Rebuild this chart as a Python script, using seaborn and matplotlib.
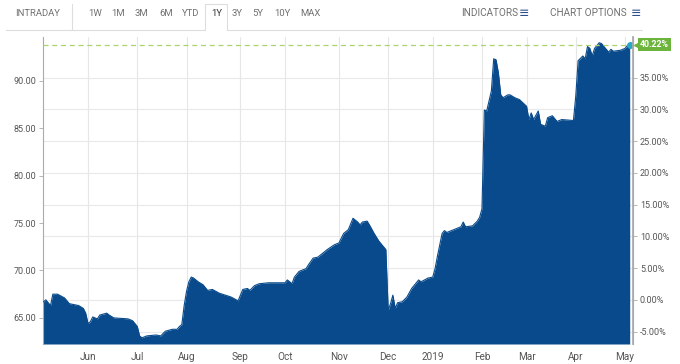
import numpy as np
import pandas as pd
import matplotlib
matplotlib.use("Agg")
import matplotlib.pyplot as plt
import matplotlib.transforms as mtransforms
from matplotlib.lines import Line2D
import seaborn as sns

# ---------------- data ----------------
dates = [
    "2018-05-03", "2018-05-04", "2018-05-07", "2018-05-09", "2018-05-10", "2018-05-14",
    "2018-05-17", "2018-05-21", "2018-05-25", "2018-05-30", "2018-05-31",
    "2018-06-01", "2018-06-04", "2018-06-05", "2018-06-07", "2018-06-08", "2018-06-13",
    "2018-06-14", "2018-06-18", "2018-06-26", "2018-06-28",
    "2018-07-02", "2018-07-03", "2018-07-05", "2018-07-09", "2018-07-13", "2018-07-17",
    "2018-07-19", "2018-07-24", "2018-07-26", "2018-07-27", "2018-07-30", "2018-07-31",
    "2018-08-01", "2018-08-02", "2018-08-03", "2018-08-06", "2018-08-08", "2018-08-10",
    "2018-08-14", "2018-08-16", "2018-08-21", "2018-08-28", "2018-08-31",
    "2018-09-05", "2018-09-07", "2018-09-10", "2018-09-12", "2018-09-14", "2018-09-20",
    "2018-09-27",
    "2018-10-01", "2018-10-02", "2018-10-04", "2018-10-05", "2018-10-09", "2018-10-10",
    "2018-10-12", "2018-10-15", "2018-10-17", "2018-10-19", "2018-10-25", "2018-10-30",
    "2018-11-01", "2018-11-05", "2018-11-07", "2018-11-09", "2018-11-13", "2018-11-14",
    "2018-11-15", "2018-11-19", "2018-11-20", "2018-11-23", "2018-11-27", "2018-11-30",
    "2018-12-03", "2018-12-04", "2018-12-06", "2018-12-07", "2018-12-10", "2018-12-12",
    "2018-12-14", "2018-12-18", "2018-12-21", "2018-12-24", "2018-12-28",
    "2019-01-02", "2019-01-03", "2019-01-04", "2019-01-08", "2019-01-09", "2019-01-10",
    "2019-01-15", "2019-01-18", "2019-01-22", "2019-01-23", "2019-01-28", "2019-01-30",
    "2019-01-31",
    "2019-02-01", "2019-02-04", "2019-02-05", "2019-02-07", "2019-02-08", "2019-02-11",
    "2019-02-12", "2019-02-13", "2019-02-14", "2019-02-19", "2019-02-20", "2019-02-22",
    "2019-02-26",
    "2019-03-01", "2019-03-04", "2019-03-05", "2019-03-06", "2019-03-08", "2019-03-11",
    "2019-03-13", "2019-03-14", "2019-03-18", "2019-03-20", "2019-03-21", "2019-03-22",
    "2019-03-29",
    "2019-04-01", "2019-04-02", "2019-04-04", "2019-04-05", "2019-04-08", "2019-04-09",
    "2019-04-10", "2019-04-11", "2019-04-15", "2019-04-16", "2019-04-18", "2019-04-22",
    "2019-04-23", "2019-04-24", "2019-04-29",
    "2019-05-01", "2019-05-02", "2019-05-03",
]
prices = [
    66.6, 66.7, 66.9, 66.3, 67.5, 67.5,
    67.1, 66.5, 66.3, 66.0, 65.5,
    64.4, 64.6, 65.1, 64.9, 65.3, 65.5,
    65.3, 65.0, 64.9, 64.7,
    64.1, 63.1, 62.9, 63.1, 63.2, 63.1,
    63.6, 63.8, 63.8, 64.1, 64.3, 66.3,
    67.8, 68.8, 69.3, 69.2, 68.8, 68.5,
    67.9, 68.0, 67.6, 67.2, 66.8,
    68.0, 68.1, 67.9, 68.4, 68.6, 68.7,
    68.7,
    68.7, 69.0, 68.6, 69.3, 69.9, 70.0,
    70.2, 70.6, 71.3, 71.4, 72.2, 72.7,
    72.9, 73.9, 74.3, 75.5, 75.1, 74.8,
    75.1, 75.2, 74.8, 73.9, 73.1, 72.2,
    65.8, 66.5, 67.4, 66.0, 66.6, 66.7,
    67.2, 68.1, 69.0, 68.8, 69.2,
    69.3, 70.2, 71.5, 73.9, 74.2, 74.0,
    74.3, 74.6, 75.1, 74.6, 74.7, 75.2,
    75.6,
    76.5, 86.9, 86.8, 88.9, 92.3, 92.2,
    90.8, 88.5, 88.2, 88.5, 88.5, 88.2,
    88.0,
    87.3, 85.9, 86.6, 85.9, 86.8, 85.4,
    85.2, 86.1, 86.3, 85.7, 85.8, 85.9,
    85.8,
    88.4, 92.1, 92.6, 92.3, 93.6, 93.4,
    92.6, 93.4, 94.0, 93.9, 93.3, 93.0,
    93.3, 93.1, 93.2,
    93.4, 93.7, 93.8,
]
month_starts = ["2018-06-01", "2018-07-02", "2018-08-01", "2018-09-04", "2018-10-01",
                "2018-11-01", "2018-12-03", "2019-01-02", "2019-02-01", "2019-03-01",
                "2019-04-01", "2019-05-01"]
month_labels = ["Jun", "Jul", "Aug", "Sep", "Oct", "Nov", "Dec", "2019", "Feb", "Mar",
                "Apr", "May"]
price_ticks = [65, 70, 75, 80, 85, 90]
pct_ticks = [-5, 0, 5, 10, 15, 20, 25, 30, 35]
last_change_pct = 40.22
range_buttons = ["1W", "1M", "3M", "6M", "YTD", "1Y", "3Y", "5Y", "10Y", "MAX"]

# exchange holidays (trading-day axis, weekends/holidays skipped)
holidays = ["2018-05-28", "2018-07-04", "2018-09-03", "2018-11-22", "2018-12-05",
            "2018-12-25", "2019-01-01", "2019-01-21", "2019-02-18", "2019-04-19"]
start = "2018-05-03"

df = pd.DataFrame({"date": pd.to_datetime(dates), "price": prices})
df["day"] = np.busday_count(start, np.array(dates, dtype="datetime64[D]"), holidays=holidays)
tick_pos = np.busday_count(start, np.array(month_starts, dtype="datetime64[D]"), holidays=holidays)

base = prices[-1] / (1 + last_change_pct / 100.0)

# ---------------- figure ----------------
sns.set_theme(style="white")
plt.rcParams["font.family"] = ["Roboto", "DejaVu Sans"]

fig = plt.figure(figsize=(6.8, 3.64), dpi=100)
ax = fig.add_axes([43 / 680, 1 - 344 / 364, (633 - 43) / 680, (344 - 37) / 364])

ylo, yhi = 62.25, 94.6
fill_c = "#084a8b"
sns.lineplot(data=df, x="day", y="price", color=fill_c, linewidth=0.8, ax=ax, zorder=3)
ax.fill_between(df["day"], df["price"], ylo, color=fill_c, linewidth=0, zorder=2)

ax.set_xlim(0.8, 252.4)
ax.set_ylim(ylo, yhi)

# grid: vertical at months, horizontal at percentage ticks
for t in tick_pos:
    ax.axvline(t, color="#e6e6e6", linewidth=0.8, zorder=0)
for p in pct_ticks:
    ax.axhline(base * (1 + p / 100.0), color="#e9e9e9", linewidth=0.8, zorder=0)

# dashed last-price line
ax.axhline(prices[-1], color="#acd46e", linewidth=0.9, linestyle=(0, (4, 3)), zorder=4)

ax.set_xticks(tick_pos)
ax.set_xticklabels(month_labels)
ax.set_yticks(price_ticks)
ax.set_yticklabels([f"{v:.2f}" for v in price_ticks])
ax.set_xlabel("")
ax.set_ylabel("")
ax.tick_params(axis="x", length=3, width=0.7, color="#aaaaaa", labelsize=7.2,
               labelcolor="#555555", pad=3)
ax.tick_params(axis="y", length=3, width=0.6, color="#aaaaaa", labelsize=6.5,
               labelcolor="#555555", pad=2, direction="out")

for side in ["top", "bottom"]:
    ax.spines[side].set_visible(False)
ax.spines["left"].set_color("#aaaaaa")
ax.spines["left"].set_linewidth(0.8)
ax.spines["right"].set_color("#aaaaaa")
ax.spines["right"].set_linewidth(0.8)

# right percentage axis
ax2 = ax.twinx()
ax2.set_ylim((ylo / base - 1) * 100, (yhi / base - 1) * 100)
ax2.set_yticks(pct_ticks)
ax2.set_yticklabels([f"{p:.2f}%" for p in pct_ticks])
ax2.tick_params(axis="y", length=3, width=0.6, color="#aaaaaa", labelsize=6.5,
                labelcolor="#555555", pad=2)
for side in ["top", "bottom", "left"]:
    ax2.spines[side].set_visible(False)
ax2.spines["right"].set_color("#aaaaaa")
ax2.grid(False)

# last value marker + label
ax.plot(df["day"].iloc[-1], prices[-1], marker="o", markersize=4, color="#27a6c9",
        zorder=6, clip_on=False)
trans = mtransforms.blended_transform_factory(ax.transAxes, ax.transData)
ax.text(1.012, prices[-1], f"{last_change_pct:.2f}%", transform=trans, ha="left",
        va="center", fontsize=6.3, color="white", fontweight="bold", zorder=7,
        bbox=dict(boxstyle="square,pad=0.25", fc="#6cb43c", ec="none"))
ax.plot([1.006], [prices[-1]], transform=trans, marker="<", markersize=4.5,
        color="#6cb43c", clip_on=False, zorder=6)

# ---------------- header bar ----------------
hc = "#707070"
hy = 1 - 13 / 364
fs = 6.8
fig.text(15 / 680, hy, "INTRADAY", fontsize=fs, color=hc, va="center", ha="left")
for lab, x in zip(range_buttons, [88, 111, 135, 159, 182, 211, 232, 252, 274, 300]):
    fig.text(x / 680, hy, lab, fontsize=fs, va="center", ha="left",
             color="#333333" if lab == "1Y" else hc)
fig.text(461 / 680, hy, "INDICATORS", fontsize=7.2, color=hc, va="center", ha="left")
fig.text(519 / 680, hy, "≡", fontsize=9, color="#2f4f8f", va="center", ha="left",
         family=["DejaVu Sans"])
fig.text(550 / 680, hy, "CHART OPTIONS", fontsize=7.2, color=hc, va="center", ha="left")
fig.text(631 / 680, hy, "≡", fontsize=9, color="#2f4f8f", va="center", ha="left",
         family=["DejaVu Sans"])

lc = "#dddddd"
y_line = 1 - 30 / 364
y_top = 1 - 4 / 364
fig.add_artist(Line2D([6 / 680, 205 / 680], [y_line, y_line], color=lc, linewidth=0.8))
fig.add_artist(Line2D([227 / 680, 642 / 680], [y_line, y_line], color=lc, linewidth=0.8))
fig.add_artist(Line2D([72 / 680, 72 / 680], [y_top, y_line], color=lc, linewidth=0.8))
fig.add_artist(Line2D([205 / 680, 205 / 680, 227 / 680, 227 / 680],
                      [y_line, y_top, y_top, y_line], color=lc, linewidth=0.8))

fig.savefig("out.png", dpi=100)
